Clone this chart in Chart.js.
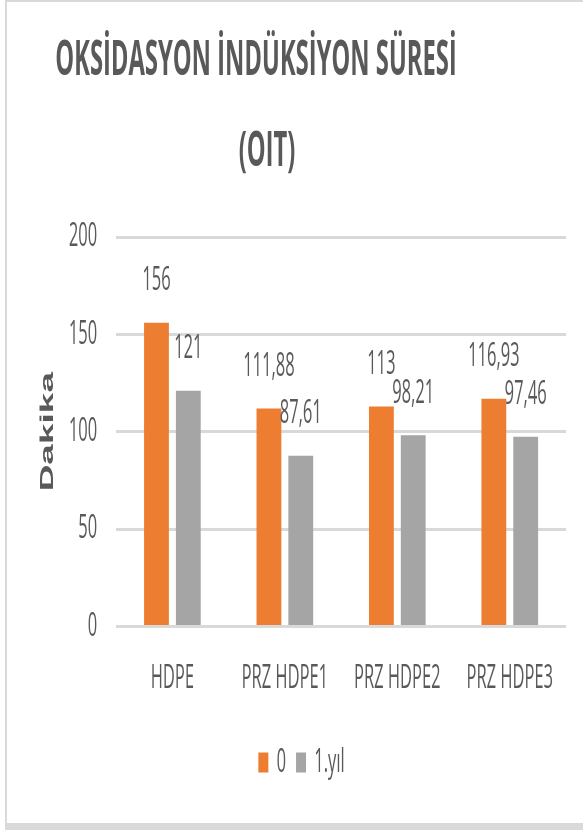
<!DOCTYPE html>
<html>
<head>
<meta charset="utf-8">
<script src="https://cdn.jsdelivr.net/npm/chart.js@4/dist/chart.umd.min.js"></script>
<style>
	html, body { margin: 0; padding: 0; overflow: hidden; background: #fff; }
	#frame {
		position: absolute; left: 5px; top: 0; width: 620px; height: 830px;
		box-sizing: border-box; border-left: 2px solid #d9d9d9;
		border-top: 2px solid #d9d9d9; border-bottom: 7px solid #d9d9d9;
	}
	/* the source chart is squeezed horizontally, so draw wide and scale down */
	#chart {
		position: absolute; left: 0; top: 0; width: 1166px; height: 830px;
		transform: scaleX(0.5); transform-origin: 0 0;
	}
</style>
</head>
<body>
<div id="frame"></div>
<canvas id="chart" width="1166" height="830"></canvas>
<script>
const titleLines = ["OKSİDASYON İNDÜKSİYON SÜRESİ", "(OIT)"];
const categories = ["HDPE", "PRZ HDPE1", "PRZ HDPE2", "PRZ HDPE3"];
const seriesNames = ["0", "1.yıl"];
const values0 = [156, 111.88, 113, 116.93];
const values1 = [121, 87.61, 98.21, 97.46];
const yTicks = [0, 50, 100, 150, 200];
const yTitle = "Dakika";

const textColor = "#595959";
const font = '"Open Sans", sans-serif';

// numbers are written with a decimal comma
function fmt(v) {
	return String(v).replace(".", ",");
}

const titleLinesPlugin = {
	id: "titleLines",
	afterDraw(chart) {
		const ctx = chart.ctx;
		ctx.save();
		ctx.font = 'bold 47.5px "Open Sans", sans-serif';
		ctx.fillStyle = textColor;
		ctx.textAlign = "center";
		ctx.textBaseline = "alphabetic";
		ctx.fillText(titleLines[0], 512, 75);
		ctx.fillText(titleLines[1], 534, 166);
		ctx.restore();
	},
};

const valueLabels = {
	id: "valueLabels",
	afterDatasetsDraw(chart) {
		const ctx = chart.ctx;
		ctx.save();
		ctx.font = '33px "Open Sans", sans-serif';
		ctx.fillStyle = textColor;
		ctx.textAlign = "center";
		ctx.textBaseline = "middle";
		chart.data.datasets.forEach((ds, i) => {
			chart.getDatasetMeta(i).data.forEach((bar, j) => {
				ctx.fillText(fmt(ds.data[j]), bar.x, bar.y - 42);
			});
		});
		ctx.restore();
	},
};

const chart = new Chart(document.getElementById("chart"), {
	type: "bar",
	data: {
		labels: categories,
		datasets: [
			{
				label: seriesNames[0],
				data: values0,
				backgroundColor: "#ED7D31",
				categoryPercentage: 0.566,
				barPercentage: 0.78,
			},
			{
				label: seriesNames[1],
				data: values1,
				backgroundColor: "#A5A5A5",
				categoryPercentage: 0.566,
				barPercentage: 0.78,
			},
		],
	},
	options: {
		responsive: false,
		animation: false,
		devicePixelRatio: 1,
		layout: {
			padding: { left: 74, right: 34, top: 237, bottom: 41 },
		},
		scales: {
			x: {
				grid: { display: false, drawTicks: false },
				border: { display: false },
				ticks: {
					color: textColor,
					padding: 32,
					font: { family: font, size: 33 },
				},
				afterFit(scale) {
					scale.height -= 4;
				},
			},
			y: {
				min: 0,
				max: 200,
				afterBuildTicks(scale) {
					scale.ticks = yTicks.map((v) => ({ value: v }));
				},
				grid: { color: "#D9D9D9", lineWidth: 3, drawTicks: false },
				border: { display: false },
				ticks: {
					color: textColor,
					padding: 38,
					font: { family: font, size: 33 },
				},
				title: {
					display: true,
					text: yTitle,
					color: textColor,
					padding: { top: 3.7, bottom: -15 },
					font: { family: '"Liberation Sans", Arial, sans-serif', size: 37, weight: "bold", lineHeight: 1 },
				},
			},
		},
		plugins: {
			title: { display: false },
			tooltip: { enabled: false },
			legend: {
				position: "bottom",
				labels: {
					color: textColor,
					boxWidth: 20,
					boxHeight: 20,
					padding: 20,
					font: { family: font, size: 33 },
				},
			},
		},
	},
	plugins: [titleLinesPlugin, valueLabels],
});
</script>
</body>
</html>
